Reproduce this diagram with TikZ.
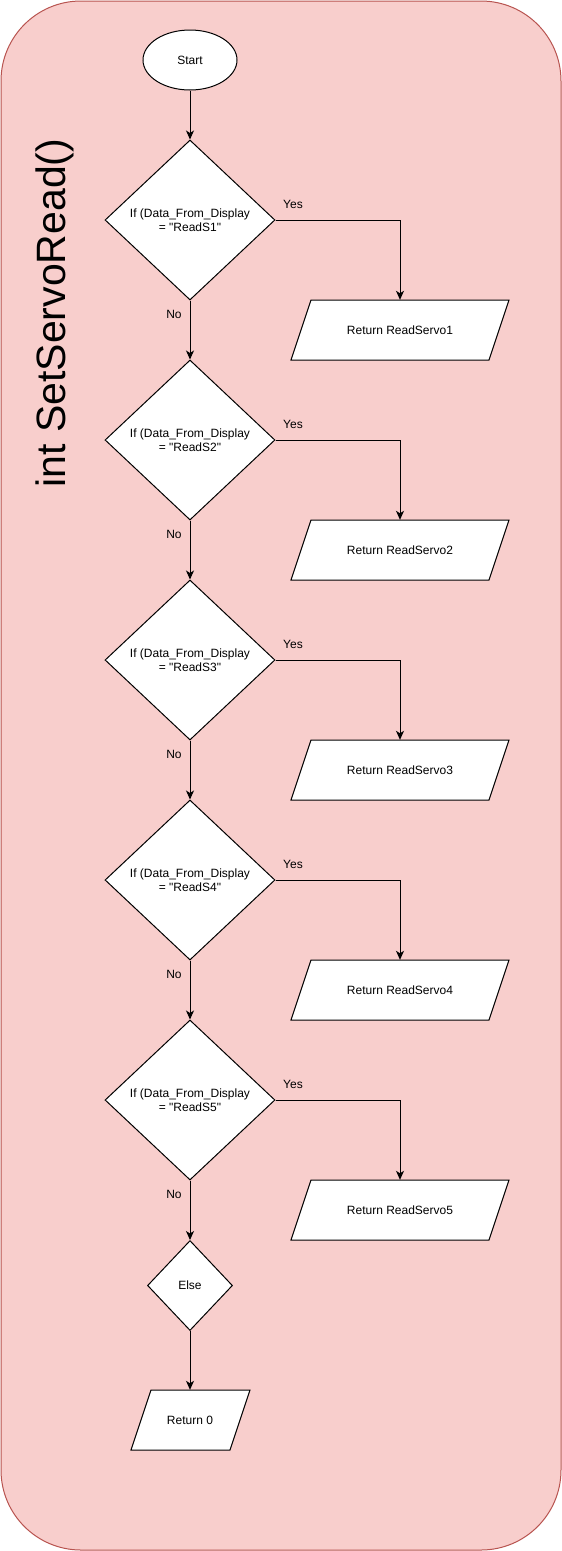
\documentclass[tikz,border=0pt]{standalone}
\usepackage{fontspec}
\setmainfont{Liberation Sans}[Ligatures=TeXOff]
\usetikzlibrary{shapes.geometric,arrows.meta}
\definecolor{bgfill}{HTML}{F8CECC}
\definecolor{bgline}{HTML}{B85450}
\begin{document}
\begin{tikzpicture}[x=1pt,y=-1pt,
  every node/.style={font=\fontsize{12}{14}\selectfont},
  dec/.style={diamond,draw=black,fill=white,line width=1pt,inner sep=0pt,align=center,minimum width=170pt,minimum height=160pt},
  shapeline/.style={draw=black,fill=white,line width=1pt},
  iobox/.style={rectangle,inner sep=0pt,minimum height=60pt},
  lbl/.style={inner sep=1pt},
  arr/.style={line width=1pt,-{Stealth[length=9pt,width=8pt,inset=2.5pt]}}]
\useasboundingbox (0,0) rectangle (562,1551);
\draw[fill=bgfill,draw=bgline,line width=1pt,rounded corners=80pt] (1,1) rectangle (561,1550);
\node[rotate=90,font=\fontsize{41}{48}\selectfont] (title) at (55,313) {int SetServoRead()};
\node[ellipse,draw=black,fill=white,line width=1pt,minimum width=94pt,minimum height=60pt,inner sep=0pt] (start) at (190,60) {Start};
\foreach \i/\y in {1/220,2/440,3/660,4/880,5/1100}{
  \node[dec] (d\i) at (190,\y) {If (Data\_From\_Display\\= "ReadS\i"};
  \path[shapeline] (311,\y+80) -- (509,\y+80) -- (489,\y+140) -- (291,\y+140) -- cycle;
  \node[iobox,minimum width=218pt] (p\i) at (400,\y+110) {Return ReadServo\i};
}
\node[diamond,draw=black,fill=white,line width=1pt,inner sep=0pt,minimum width=85pt,minimum height=90pt] (else) at (190,1285.5) {Else};
\path[shapeline] (151,1390) -- (250,1390) -- (230,1450) -- (131,1450) -- cycle;
\node[iobox,minimum width=100pt] (r0) at (190,1420) {Return 0};
\draw[arr] (start) -- (d1);
\foreach \i in {1,...,5}{
  \draw[arr] (d\i.east) -| (p\i.north);
  \node[lbl] (yes\i) at (293,{220*\i-16}) {Yes};
  \node[lbl] (no\i) at (174,{220*\i+94}) {No};
}
\draw[arr] (d1.south) -- (d2.north);
\draw[arr] (d2.south) -- (d3.north);
\draw[arr] (d3.south) -- (d4.north);
\draw[arr] (d4.south) -- (d5.north);
\draw[arr] (d5.south) -- (else.north);
\draw[arr] (else.south) -- (r0.north);
\end{tikzpicture}
\end{document}
